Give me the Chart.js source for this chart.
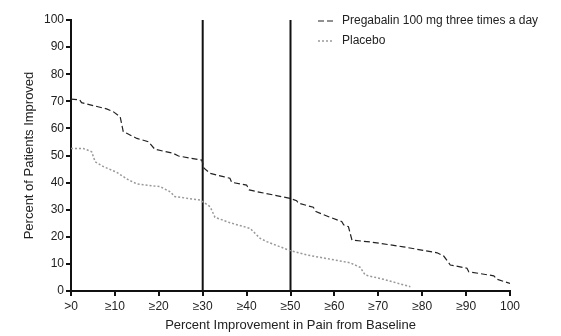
<!DOCTYPE html>
<html>
<head>
<meta charset="utf-8">
<script src="https://cdn.jsdelivr.net/npm/chart.js@4/dist/chart.umd.min.js"></script>
<style>
  html, body { margin: 0; padding: 0; background: #fff; }
</style>
</head>
<body>
<canvas id="responders" width="561" height="336"></canvas>
<script>
// responder curves: % improvement from baseline vs % of patients reaching it
const pregabalinX = [0, 2.0, 2.4, 8.1, 9.6, 11.2, 11.9, 12.7, 15.0, 17.6, 19.1, 23.3, 24.5, 29.8,
  30.3, 31.7, 34.7, 36.2, 36.6, 40.0, 40.6, 43.1, 49.9, 51.4, 51.8, 55.2, 55.8, 59.0, 61.7,
  62.1, 63.2, 64.0, 68.2, 75.7, 83.4, 84.9, 86.4, 90.2, 90.6, 96.3, 97.1, 100]
const pregabalinY = [70.8, 70.5, 69.5, 67.2, 66.2, 64.3, 58.8, 58.2, 56.3, 55.1, 52.3, 50.8, 49.8, 48.3,
  45.3, 43.4, 42.2, 41.6, 40.1, 39.1, 37.3, 36.4, 34.2, 33.3, 32.4, 30.9, 29.3, 27.2, 25.6,
  24.4, 23.7, 18.8, 18.1, 16.3, 14.1, 12.9, 9.6, 8.4, 7.1, 5.6, 4.3, 2.8]

const placeboX = [0, 2.8, 4.7, 5.5, 7.4, 10.4, 13.1, 15.0, 20.3, 22.6, 23.7, 29.4, 31.7, 32.8,
  36.2, 40.8, 43.1, 44.6, 49.9, 53.7, 60.9, 63.6, 65.9, 67.0, 71.2, 77.3]
const placeboY = [52.6, 52.6, 51.4, 47.7, 45.9, 43.8, 41.0, 39.5, 38.5, 36.6, 34.8, 33.6, 31.1, 27.2,
  25.2, 23.1, 19.4, 18.2, 14.9, 13.3, 11.2, 10.4, 8.7, 5.9, 4.3, 1.6]

// reference cut-offs (30% and 50% improvement)
const cutoffs = [30, 50]

const xTickLabels = ['>0', '≥10', '≥20', '≥30', '≥40', '≥50', '≥60', '≥70', '≥80', '≥90', '100']

const toPoints = (xs, ys) => xs.map((x, i) => ({ x: x, y: ys[i] }))

const FONT = '"Liberation Sans", Arial, sans-serif'

// two-row legend in the upper right
const sideLegend = {
  id: 'sideLegend',
  afterDraw(chart) {
    const ctx = chart.ctx
    ctx.save()
    ctx.font = '12px ' + FONT
    ctx.textBaseline = 'middle'
    chart.data.datasets.slice(0, 2).forEach((ds, i) => {
      const y = 21 + i * 20
      ctx.strokeStyle = ds.borderColor
      ctx.lineWidth = ds.borderWidth
      ctx.setLineDash(ds.borderDash)
      ctx.beginPath()
      ctx.moveTo(318, y)
      ctx.lineTo(333, y)
      ctx.stroke()
      ctx.setLineDash([])
      ctx.fillStyle = '#222'
      ctx.fillText(ds.label, 342, y)
    })
    ctx.restore()
  }
}

const datasets = [
  {
    label: 'Pregabalin 100 mg three times a day',
    data: toPoints(pregabalinX, pregabalinY),
    borderColor: '#222',
    borderWidth: 1.2,
    borderDash: [6, 3]
  },
  {
    label: 'Placebo',
    data: toPoints(placeboX, placeboY),
    borderColor: '#999',
    borderWidth: 1.5,
    borderDash: [2, 2]
  }
]
cutoffs.forEach(c => {
  datasets.push({
    label: '≥' + c,
    data: [{ x: c, y: 0 }, { x: c, y: 100 }],
    borderColor: '#111',
    borderWidth: 2
  })
})

new Chart(document.getElementById('responders').getContext('2d'), {
  type: 'line',
  data: { datasets: datasets },
  plugins: [sideLegend],
  options: {
    responsive: false,
    animation: false,
    layout: { padding: { top: 20, right: 51, bottom: 0, left: 0 } },
    elements: {
      point: { radius: 0 },
      line: { tension: 0, fill: false }
    },
    plugins: {
      legend: { display: false },
      tooltip: { enabled: false }
    },
    scales: {
      x: {
        type: 'linear',
        min: 0,
        max: 100,
        afterFit: s => { s.height = 45 },
        border: { color: '#111', width: 2 },
        grid: { drawOnChartArea: false, drawTicks: true, tickLength: 5, color: '#111', lineWidth: 2 },
        ticks: {
          stepSize: 10,
          maxRotation: 0,
          padding: 3,
          color: '#222',
          font: { family: FONT, size: 12 },
          callback: v => xTickLabels[Math.round(v / 10)]
        },
        title: {
          display: true,
          text: 'Percent Improvement in Pain from Baseline',
          color: '#222',
          font: { family: FONT, size: 13 },
          padding: { top: 0, bottom: 3 }
        }
      },
      y: {
        min: 0,
        max: 100,
        afterFit: s => { s.width = 71 },
        border: { color: '#111', width: 2 },
        grid: { drawOnChartArea: false, drawTicks: true, tickLength: 5, color: '#111', lineWidth: 2 },
        ticks: {
          stepSize: 10,
          padding: 2,
          color: '#222',
          font: { family: FONT, size: 12 }
        },
        title: {
          display: true,
          text: 'Percent of Patients Improved',
          color: '#222',
          font: { family: FONT, size: 13 },
          padding: { top: 22, bottom: 0 }
        }
      }
    }
  }
})
</script>
</body>
</html>
